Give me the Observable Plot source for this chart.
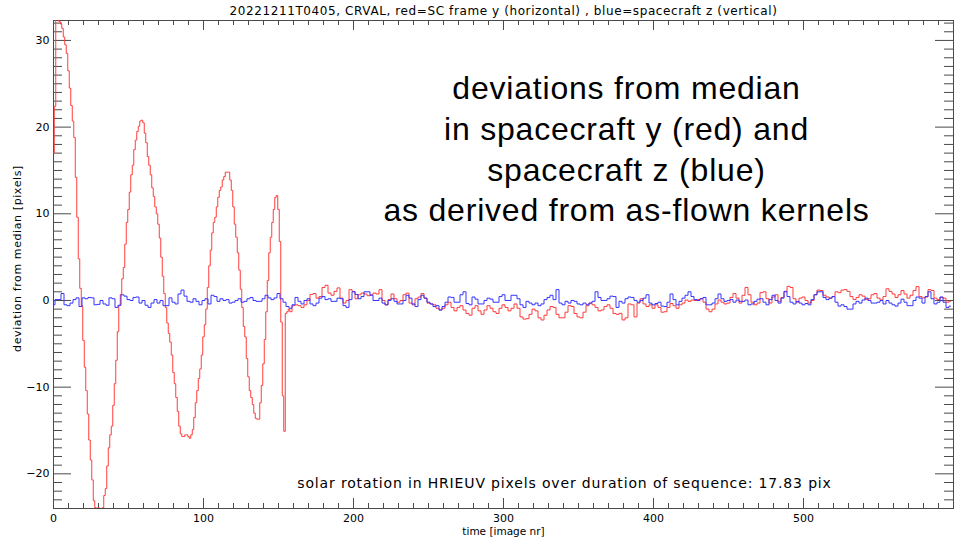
<!DOCTYPE html>
<html><head><meta charset="utf-8">
<script src="https://cdn.jsdelivr.net/npm/d3@7"></script>
<script src="https://cdn.jsdelivr.net/npm/@observablehq/plot@0.6"></script>
<style>body{margin:0;background:#fff;overflow:hidden}</style>
</head><body><div id="chart"></div>
<script>
const titleText = "20221211T0405, CRVAL, red=SC frame y (horizontal) , blue=spacecraft z (vertical)";
const xLabel = "time [image nr]";
const yLabel = "deviation from median [pixels]";
const noteText = "deviations from median\nin spacecraft y (red) and\nspacecraft z (blue)\nas derived from as-flown kernels";
const footNote = "solar rotation in HRIEUV pixels over duration of sequence: 17.83 pix";
const xTicks = [0, 100, 200, 300, 400, 500];
const yTicks = [-20, -10, 0, 10, 20, 30];

// red series: one value per image, images 0..157
const redHead = [17,22.4,32.5,33,32.2,31.9,31.4,30.4,29.5,28.5,26.5,24.5,22.5,20.7,18.8,14.2,9.6,4.8,1.4,-0.6,
-4.6,-7.7,-10.4,-13.1,-16.1,-18.4,-20.7,-23.1,-23.9,-24.2,-23.9,-24.3,-24.3,-23.9,-22.5,-21.7,-19.1,-17.0,-15.5,-14.5,
-12.1,-9.6,-6.9,-3.6,-0.6,0.7,2.5,3.8,6.5,9.0,10.5,12.5,14.5,15.6,17.4,18.5,19.5,20.1,20.7,20.8,
20.5,19.3,18.2,16.6,15.6,14.5,13.0,12.0,10.8,10.0,8.8,7.2,5.0,2.8,0.8,-0.8,-2.6,-3.8,-4.8,-6.3,
-8.3,-9.6,-11.2,-12.8,-14.5,-15.4,-15.7,-15.7,-15.5,-15.5,-15.7,-15.9,-15.5,-14.9,-13.5,-11.8,-10.4,-9.0,-7.9,-6.3,
-4.2,-2.8,-1.0,1.5,4.0,5.8,7.8,9.0,9.6,10.8,11.9,12.7,13.1,13.9,14.3,14.8,14.8,14.8,13.9,12.7,
10.8,8.8,7.3,5.5,3.5,1.3,-0.8,-3.0,-4.2,-6.7,-8.8,-10.4,-11.2,-12.0,-13.0,-13.6,-13.7,-13.7,-11.8,-9.8,
-7.3,-4.5,-1.3,2.3,5.5,7.3,9.0,10.5,11.9,12.1,10.5,6.8,-2.5,-11.0,-15.1,-1.5,-1.3,-1.0];

// red series, images 158..598, read every 2nd image
const redTailStart = 158;
const sampleStep = 2;
const redTail = [-1.3,-0.6,-0.5,-0.6,-0.8,-0.5,0,0.7,0.8,0.27,0.45,1.5,1.75,0.85,0.6,1.05,1.45,0.27,-0.3,0,
1.25,1.05,0.2,0.66,0.85,0.75,0.55,0.66,0.85,0.75,1.25,0,-0.5,0.1,0.75,0.2,-0.2,0,0.66,0.85,
-0.3,-0.5,0.2,0.4,0.8,0.27,-0.3,-0.4,-0.5,-0.9,-1.1,-0.9,-0.5,-0.2,-0.8,-1.2,-0.8,-0.6,-1.1,-1.5,
-1.7,-0.9,-0.6,-1.2,-1.6,-1.1,-0.6,-0.9,-1.3,-1.5,-0.9,-0.5,-0.8,-1.2,-0.9,-0.4,-0.9,-1.9,-2.15,-2.1,
-1.6,-1.0,-1.2,-2.0,-2.25,-1.7,-1.1,-0.7,-0.8,-1.6,-2.0,-2.0,-1.35,-0.6,-0.7,-1.5,-1.9,-2.0,-1.35,-0.6,
-0.3,-0.5,-0.8,-1.2,-1.1,-0.7,-0.5,-0.9,-1.5,-1.6,-1.48,-2.25,-2.0,-0.4,-0.5,-1.9,-0.3,0.2,-0.4,-0.7,
-0.5,-0.9,-0.5,-0.8,-1.35,-1.3,-0.8,-0.35,-0.6,-0.9,-0.5,-0.3,0.05,-0.1,0.05,0,0.1,0.2,-0.2,-1.0,
-1.3,-1.0,-0.4,0.05,-0.2,-0.4,-0.3,0.35,0.8,0.27,-0.3,0.6,1.5,0.66,-0.2,-0.5,-0.3,0.9,1.0,0.2,
-0.3,0.4,0.66,-0.1,0.35,1.0,1.63,1.5,0.2,-0.2,0.27,0.4,0,-0.3,0,0.66,1.2,1.15,0.6,0.4,
0.27,0.45,1.0,0.9,1.2,1.25,1.05,0.45,0.1,0.35,0.66,0.5,0.1,0.2,0.66,0.8,0.27,0.05,0.45,1.35,
1.05,0.75,0.35,0.66,1.15,0.75,0.27,0.6,1.15,1.6,0.45,0.3,0.4,1.25,1.15,0.27,0.1,0.35,0.27,-0.2,-0.1];

// blue series, images 0..598, read every 2nd image
const blueStart = 0;
const blueVals = [-0.5,0.1,0.1,0.8,-0.5,-0.6,-0.3,0.1,0.3,-0.7,0.3,0.2,0.35,0.3,-0.5,-0.45,0,-0.4,-0.55,0.3,
0.2,-0.8,-0.55,0.65,0.5,0.1,0,0.35,0.4,-0.3,0,-0.55,-0.8,-0.3,0.1,-0.3,0,-0.6,-0.6,0.3,
-0.2,-0.4,0.75,1.2,0.5,-0.1,-0.2,0.2,-0.1,-0.5,0,0.2,-0.4,0.6,0.45,-0.1,0.2,0,0.1,-0.3,
-0.2,0,0.2,-0.2,-0.1,0.2,0.35,0,-0.1,-0.1,0.2,0.6,0.3,0.1,0.3,0.8,0.2,-0.2,-0.7,-0.9,
-0.5,0.35,-0.1,-0.4,0,0.2,-0.4,-0.6,-0.3,0.27,0.45,0.1,0.2,-0.1,-0.1,0.27,0.2,-0.6,-0.8,0.1,
1.0,0.7,0.2,0.45,1.0,1.0,0.6,0,0,0.27,-0.3,-0.5,0,0.2,-0.1,-0.4,-0.4,0,0.6,0.27,
-0.4,-0.7,0.1,0.6,0.27,-0.2,-0.4,-0.7,-0.6,-1.1,-0.7,-0.2,0.4,0.35,-0.2,-0.2,0.66,1.0,-0.35,-0.5,
0.4,0.15,-0.4,-0.4,0,0.27,0.15,-0.2,-0.2,0.45,0.66,0,0,0.6,0.6,0.2,-0.5,-0.8,-0.1,-0.3,
-0.5,-0.3,-0.6,-0.4,0.1,0.35,0.6,0.1,1.25,-0.3,-0.5,-0.1,-0.3,0,-0.1,-0.4,-0.5,-0.3,-0.5,-0.3,
-0.1,1.0,0.35,0,0,0.2,0.5,0.45,-0.8,-0.1,-0.3,0.2,0.4,0.35,0,-0.2,0,0.27,0.66,-0.3,
-0.5,-0.35,-0.2,-0.65,-0.7,-0.2,0.75,0.1,-0.5,-0.1,0.27,0.6,1.0,0.45,0.1,0,0.2,0.35,-0.5,-0.5,
-0.3,0.2,0.75,0.2,-0.1,0,0.1,-0.2,0.05,-0.1,-0.1,0.05,-0.5,-0.4,-0.1,0.15,0.2,-0.2,-0.5,0.1,
0.6,0,-0.3,0.27,1.05,0.45,-0.2,-0.4,-0.1,-0.3,-0.5,-0.35,-0.5,0.1,0.66,1.0,1.0,0.35,0.1,0.27,
0.45,-0.2,-0.65,-0.5,-0.7,-1.0,-1.0,-0.4,-0.1,-0.3,0.05,0.27,0,-0.3,-0.3,-0.2,0,-0.4,0,-0.3,
-0.5,-0.65,-0.3,0.15,-0.2,-0.6,-0.6,0,0.4,0.27,-0.3,0.45,1.0,0.2,-0.4,-0.2,0.4,-0.2,-0.8,-0.65];

const redData = redHead.map((v, i) => ({t: i, v}))
  .concat(redTail.map((v, k) => ({t: redTailStart + k * sampleStep, v})));
const blueData = blueVals.map((v, k) => ({t: blueStart + k * sampleStep, v}));

const W = 955, H = 545;
const mL = 53, mR = 2, mT = 20, mB = 37;
const iw = W - mL - mR, ih = H - mT - mB;
const axisColor = "#4a4a4a";
const redColor = "#ff3c3c";
const blueColor = "#3434ff";

const yMajor = yTicks;
const yMinor = d3.range(-24, 33).filter(d => d % 10 !== 0);
const xMajor = d3.range(0, 601, 100);
const xMinor = d3.range(0, 601, 10).filter(d => d % 100 !== 0);

const hershey = "'DejaVu Sans', sans-serif";

const chart = Plot.plot({
  width: W, height: H,
  marginLeft: mL, marginRight: mR, marginTop: mT, marginBottom: mB,
  x: {domain: [0, 600], axis: null},
  y: {domain: [-24, 32.3], axis: null},
  style: {fontFamily: hershey, fontSize: "11px", background: "white", color: "black", overflow: "visible"},
  marks: [
    // inward ticks (left / right)
    Plot.tickY(yMinor, {y: d => d, stroke: axisColor, insetRight: iw - 9}),
    Plot.tickY(yMajor, {y: d => d, stroke: axisColor, insetRight: iw - 18}),
    Plot.tickY(yMinor, {y: d => d, stroke: axisColor, insetLeft: iw - 9}),
    Plot.tickY(yMajor, {y: d => d, stroke: axisColor, insetLeft: iw - 18}),
    // inward ticks (bottom / top)
    Plot.tickX(xMinor, {x: d => d, stroke: axisColor, insetTop: ih - 5}),
    Plot.tickX(xMajor, {x: d => d, stroke: axisColor, insetTop: ih - 10}),
    Plot.tickX(xMinor, {x: d => d, stroke: axisColor, insetBottom: ih - 5}),
    Plot.tickX(xMajor, {x: d => d, stroke: axisColor, insetBottom: ih - 10}),
    Plot.frame({stroke: axisColor}),
    Plot.line(redData, {x: "t", y: "v", curve: "step", stroke: redColor, strokeWidth: 1, clip: true}),
    Plot.line(blueData, {x: "t", y: "v", curve: "step", stroke: blueColor, strokeWidth: 1, clip: true}),
    Plot.axisX({ticks: xTicks, tickSize: 0, tickPadding: 6, fontSize: 11, label: null, tickFormat: d => String(d)}),
    Plot.axisY({ticks: yTicks, tickSize: 0, tickPadding: 4, fontSize: 11, label: null}),
    Plot.text([titleText], {text: d => d, frameAnchor: "top", lineAnchor: "middle", dy: -9, fontSize: 12}),
    Plot.text([xLabel], {text: d => d, frameAnchor: "bottom", lineAnchor: "middle", dy: 23, fontSize: 10.5}),
    Plot.text([yLabel], {text: d => d, frameAnchor: "left", textAnchor: "middle", lineAnchor: "middle",
      rotate: -90, dx: -36, dy: -6, fontSize: 11}),
    Plot.text([noteText], {text: d => d, frameAnchor: "top", lineAnchor: "top", dx: 123, dy: 50,
      fontSize: 32, lineHeight: 1.27, fontFamily: "'Liberation Sans', Arial, sans-serif"}),
    Plot.text([footNote], {text: d => d, frameAnchor: "bottom", lineAnchor: "middle", dx: 61, dy: -25, fontSize: 14})
  ]
});
// wider letter spacing to mimic the stroke (Hershey) and Helvetica faces of the original
const spacing = [[titleText, "0.6px"], [yLabel, "0.6px"], ["deviations from median", "0.8px"], [footNote, "0.85px"]];
d3.select(chart).selectAll("text").each(function() {
  const s = this.textContent;
  for (const [key, v] of spacing) {
    if (s.includes(key)) this.style.letterSpacing = v;
  }
});
document.getElementById("chart").appendChild(chart);
</script>
</body></html>
